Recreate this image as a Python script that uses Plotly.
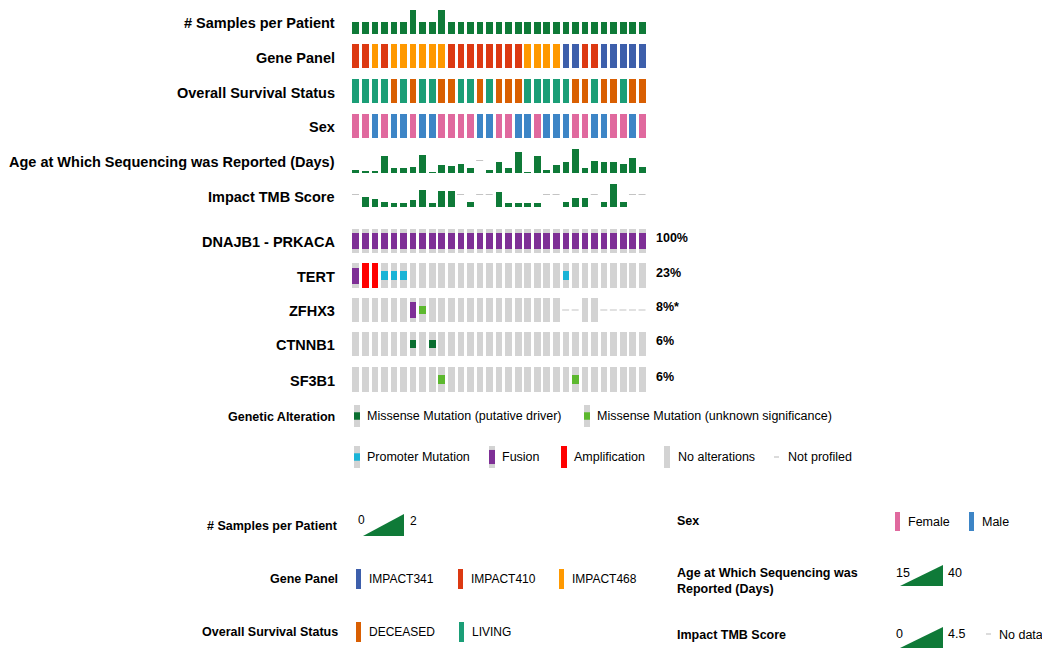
import plotly.graph_objects as go

# page body adds an 8px margin; the figure is sized/positioned to compensate
OFF = 8
W, H = 1042, 649

# ---------------- data ----------------
patients = list(range(31))

samples_per_patient = [1, 1, 1, 1, 1, 1, 2, 1, 1, 2, 1, 1, 1, 1, 1, 1,
                       1, 1, 1, 1, 1, 1, 1, 1, 1, 1, 1, 1, 1, 1, 1]

gene_panel = ["IMPACT410", "IMPACT410", "IMPACT468", "IMPACT410", "IMPACT468", "IMPACT468",
              "IMPACT468", "IMPACT468", "IMPACT468", "IMPACT468", "IMPACT410", "IMPACT410",
              "IMPACT410", "IMPACT410", "IMPACT410", "IMPACT410", "IMPACT410", "IMPACT410",
              "IMPACT468", "IMPACT468", "IMPACT468", "IMPACT468", "IMPACT341", "IMPACT341",
              "IMPACT410", "IMPACT410", "IMPACT341", "IMPACT341", "IMPACT341", "IMPACT341",
              "IMPACT341"]

survival = ["LIVING", "LIVING", "LIVING", "LIVING", "DECEASED", "LIVING", "DECEASED", "LIVING",
            "LIVING", "DECEASED", "DECEASED", "LIVING", "LIVING", "DECEASED", "LIVING", "DECEASED",
            "DECEASED", "DECEASED", "LIVING", "LIVING", "LIVING", "LIVING", "LIVING", "DECEASED",
            "DECEASED", "LIVING", "DECEASED", "DECEASED", "LIVING", "DECEASED", "DECEASED"]

sex = ["Female", "Female", "Male", "Female", "Male", "Male", "Female", "Male", "Male", "Female",
       "Female", "Female", "Female", "Male", "Male", "Female", "Female", "Male", "Male", "Female",
       "Male", "Male", "Male", "Female", "Female", "Male", "Male", "Female", "Female", "Male",
       "Female"]

age_days = [18.3, 17.0, 17.0, 31.7, 20.0, 20.0, 21.0, 33.3, 16.0, 23.3, 21.7, 24.3, 20.0, None,
            17.7, 25.7, 20.0, 35.7, 16.0, 32.3, 18.3, 23.3, 26.0, 39.0, 20.0, 27.3, 25.7, 25.7,
            24.3, 30.0, 21.0]

tmb_score = [None, 1.8, 1.5, 0.9, 0.7, 0.7, 1.2, 3.1, 0.7, 2.9, 2.9, None, 0.9, None, None, 2.7,
             0.7, 0.7, 0.7, 0.7, None, None, 0.9, 1.7, 1.7, None, 0.9, 4.2, 0.9, None, None]

# alteration codes: F fusion, A amplification, P promoter, MD missense driver,
# MV missense unknown significance, "" no alteration, NP not profiled
genes = ["DNAJB1 - PRKACA", "TERT", "ZFHX3", "CTNNB1", "SF3B1"]
gene_pct = ["100%", "23%", "8%*", "6%", "6%"]
alt_dnajb1 = ["F", "F", "F", "F", "F", "F", "F", "F", "F", "F", "F", "F", "F", "F", "F", "F",
              "F", "F", "F", "F", "F", "F", "F", "F", "F", "F", "F", "F", "F", "F", "F"]
alt_tert = ["F", "A", "A", "P", "P", "P", "", "", "", "", "", "", "", "", "", "",
            "", "", "", "", "", "", "P", "", "", "", "", "", "", "", ""]
alt_zfhx3 = ["", "", "", "", "", "", "F", "MV", "", "", "", "", "", "", "", "",
             "", "", "", "", "", "", "NP", "NP", "", "", "NP", "NP", "NP", "NP", "NP"]
alt_ctnnb1 = ["", "", "", "", "", "", "MD", "", "MD", "", "", "", "", "", "", "",
              "", "", "", "", "", "", "", "", "", "", "", "", "", "", ""]
alt_sf3b1 = ["", "", "", "", "", "", "", "", "", "MV", "", "", "", "", "", "",
             "", "", "", "", "", "", "", "MV", "", "", "", "", "", "", ""]
alterations = [alt_dnajb1, alt_tert, alt_zfhx3, alt_ctnnb1, alt_sf3b1]

# ---------------- styles ----------------
panel_colors = {"IMPACT341": "#3d5fab", "IMPACT410": "#dc3912", "IMPACT468": "#ff9900"}
os_colors = {"DECEASED": "#d95f02", "LIVING": "#1b9e77"}
sex_colors = {"Female": "#e0699e", "Male": "#3d85c6"}
num_green = "#0f7a38"
gray = "#d3d3d3"
np_gray = "#c4c4c4"
alt_style = {
    "F": ("#7e2f96", 0.18, 0.64, "Fusion"),
    "A": ("#ff0000", 0.0, 1.0, "Amplification"),
    "P": ("#1ab3d6", 0.33, 0.34, "Promoter Mutation"),
    "MD": ("#0a6e30", 0.33, 0.34, "Missense Mutation (putative driver)"),
    "MV": ("#5cb82e", 0.33, 0.34, "Missense Mutation (unknown significance)"),
}
FONT = "Liberation Sans, Arial, Helvetica, sans-serif"
BAR_W = 0.7
DASH = dict(symbol="line-ew", size=5, line=dict(width=1.2, color=np_gray))

# pixel layout of tracks (top, bottom) in page coordinates
clin_tracks = [(10, 34), (44, 68), (79, 103), (114, 138), (148, 173), (182, 207)]
gene_tracks = [(229, 253), (263, 288), (298, 322), (332, 356), (367, 392)]
col_span = (350.7, 646.8)


def px(x):
    return (x - OFF) / W


def py(y):
    return 1 - (y - OFF) / H


def dom(tb):
    t, b = tb
    return [py(b), py(t)]


fig = go.Figure()
layout_axes = {}
ax_i = [0]


def new_axis(tb, rng):
    ax_i[0] += 1
    i = ax_i[0]
    name = "yaxis" if i == 1 else f"yaxis{i}"
    layout_axes[name] = dict(domain=dom(tb), range=rng, visible=False, fixedrange=True)
    return "y" if i == 1 else f"y{i}"


# ---- clinical tracks ----
ya = new_axis(clin_tracks[0], [0, 2])
fig.add_trace(go.Bar(x=patients, y=samples_per_patient, width=BAR_W, marker_color=num_green,
                     yaxis=ya, name="# Samples per Patient"))

for tb, vals, cmap, nm in [(clin_tracks[1], gene_panel, panel_colors, "Gene Panel"),
                           (clin_tracks[2], survival, os_colors, "Overall Survival Status"),
                           (clin_tracks[3], sex, sex_colors, "Sex")]:
    ya = new_axis(tb, [0, 1])
    fig.add_trace(go.Bar(x=patients, y=[1] * len(vals), width=BAR_W,
                         marker_color=[cmap[v] for v in vals], hovertext=vals,
                         yaxis=ya, name=nm))

for tb, vals, lo, hi, nm in [(clin_tracks[4], age_days, 15, 40, "Age at Which Sequencing was Reported (Days)"),
                             (clin_tracks[5], tmb_score, 0, 4.5, "Impact TMB Score")]:
    ya = new_axis(tb, [lo, hi])
    xs = [p for p, v in zip(patients, vals) if v is not None]
    ys = [v - lo for v in vals if v is not None]
    fig.add_trace(go.Bar(x=xs, y=ys, base=lo, width=BAR_W, marker_color=num_green,
                         yaxis=ya, name=nm))
    xn = [p for p, v in zip(patients, vals) if v is None]
    fig.add_trace(go.Scatter(x=xn, y=[(lo + hi) / 2] * len(xn), mode="markers",
                             marker=DASH, yaxis=ya, name="No data"))

# ---- gene tracks ----
for tb, alts, g in zip(gene_tracks, alterations, genes):
    ya = new_axis(tb, [0, 1])
    prof = [p for p, a in zip(patients, alts) if a != "NP"]
    fig.add_trace(go.Bar(x=prof, y=[1] * len(prof), width=BAR_W, marker_color=gray,
                         yaxis=ya, name=g))
    npx = [p for p, a in zip(patients, alts) if a == "NP"]
    if npx:
        fig.add_trace(go.Scatter(x=npx, y=[0.5] * len(npx), mode="markers",
                                 marker=DASH, yaxis=ya, name="Not profiled"))
    for code, (col, base, hgt, lab) in alt_style.items():
        xs = [p for p, a in zip(patients, alts) if a == code]
        if xs:
            fig.add_trace(go.Bar(x=xs, y=[hgt] * len(xs), base=base, width=BAR_W,
                                 marker_color=col, yaxis=ya, name=lab))

# ---------------- text ----------------
ann = []


def text(x, y, s, anchor="left", size=12, bold=False, color="#000"):
    ann.append(dict(x=px(x), y=py(y), xref="paper", yref="paper", text=(f"<b>{s}</b>" if bold else s),
                    showarrow=False, xanchor=anchor, yanchor="middle", align=anchor if anchor != "center" else "center",
                    font=dict(family=FONT, size=size, color=color)))


clin_labels = ["# Samples per Patient", "Gene Panel", "Overall Survival Status", "Sex",
               "Age at Which Sequencing was Reported (Days)", "Impact TMB Score"]
clin_label_y = [23, 58, 93, 127, 162, 197]
for lab, yy in zip(clin_labels, clin_label_y):
    text(337, yy, lab, "right", 14.5, True)
for (t, b), g, pct in zip(gene_tracks, genes, gene_pct):
    c = (t + b) / 2
    text(337, c + 1, g, "right", 14.5, True)
    text(654, c - 3, pct, "left", 12.5, True)

# ---------------- legends ----------------
shapes = []


def rect(x0, y0, x1, y1, color):
    shapes.append(dict(type="rect", xref="paper", yref="paper", x0=px(x0), x1=px(x1),
                       y0=py(y1), y1=py(y0), fillcolor=color, line=dict(width=0), layer="above"))


def tri(x0, x1, ytop, ybot, color):
    path = f"M {px(x0)},{py(ybot)} L {px(x1)},{py(ybot)} L {px(x1)},{py(ytop)} Z"
    shapes.append(dict(type="path", xref="paper", yref="paper", path=path,
                       fillcolor=color, line=dict(width=0)))


def line(x0, x1, y, color):
    shapes.append(dict(type="line", xref="paper", yref="paper", x0=px(x0), x1=px(x1),
                       y0=py(y), y1=py(y), line=dict(color=color, width=1.2)))


# genetic alteration legend
text(337, 417, "Genetic Alteration", "right", 12.5, True)


def alt_swatch(x, yc, code):
    rect(x, yc - 11, x + 6, yc + 11, gray)
    if code in alt_style:
        col, base, hgt, _ = alt_style[code]
        rect(x, yc + 11 - 22 * (base + hgt), x + 6, yc + 11 - 22 * base, col)


LS = 12.5
alt_swatch(354, 416, "MD"); text(365, 416, alt_style["MD"][3], "left", LS)
alt_swatch(584, 416, "MV"); text(595, 416, alt_style["MV"][3], "left", LS)
alt_swatch(354, 457, "P"); text(365, 457, alt_style["P"][3], "left", LS)
alt_swatch(489, 457, "F"); text(500, 457, alt_style["F"][3], "left", LS)
alt_swatch(561, 457, "A"); text(572, 457, alt_style["A"][3], "left", LS)
alt_swatch(664, 457, ""); text(676, 457, "No alterations", "left", LS)
line(774, 779, 457, np_gray); text(786, 457, "Not profiled", "left", LS)

# clinical legends, left column
BL = 12.5
text(340, 526, "# Samples per Patient", "right", BL, True)
text(356, 520, "0", "left", 12)
tri(363, 404, 514, 536, num_green)
text(408, 521, "2", "left", 12)

text(340, 579, "Gene Panel", "right", BL, True)
for xs, lab in [(356, "IMPACT341"), (458, "IMPACT410"), (559, "IMPACT468")]:
    rect(xs, 569, xs + 5, 589, panel_colors[lab])
    text(xs + 11, 579, lab, "left", 12)

text(340, 632, "Overall Survival Status", "right", BL, True)
for xs, lab in [(356, "DECEASED"), (459, "LIVING")]:
    rect(xs, 622, xs + 5, 642, os_colors[lab])
    text(xs + 11, 632, lab, "left", 12)

# right column
text(675, 521, "Sex", "left", BL, True)
for xs, lab in [(895, "Female"), (969, "Male")]:
    rect(xs, 512, xs + 5, 531, sex_colors[lab])
    text(xs + 11, 522, lab, "left", 12.5)

text(675, 581, "Age at Which Sequencing was<br>Reported (Days)", "left", BL, True)
text(894, 573, "15", "left", 12.5)
tri(900, 943, 565, 586, num_green)
text(946, 573, "40", "left", 12.5)

text(675, 635, "Impact TMB Score", "left", BL, True)
text(894, 634, "0", "left", 12.5)
tri(900, 943, 627, 648, num_green)
text(946, 634, "4.5", "left", 12.5)
line(986, 991, 634, np_gray)
text(997, 635, "No data", "left", 12.5)

fig.update_layout(
    width=W, height=H, margin=dict(l=0, r=0, t=0, b=0),
    paper_bgcolor="white", plot_bgcolor="white", showlegend=False,
    barmode="overlay", bargap=0,
    xaxis=dict(domain=[px(col_span[0]), px(col_span[1])], range=[-0.5, 30.5], visible=False, fixedrange=True),
    annotations=ann, shapes=shapes,
    font=dict(family=FONT),
    **layout_axes,
)
for tr in fig.data:
    tr.update(xaxis="x")
    if isinstance(tr, go.Bar):
        tr.update(marker_line_width=0, opacity=1)

fig.write_html("out.html")
